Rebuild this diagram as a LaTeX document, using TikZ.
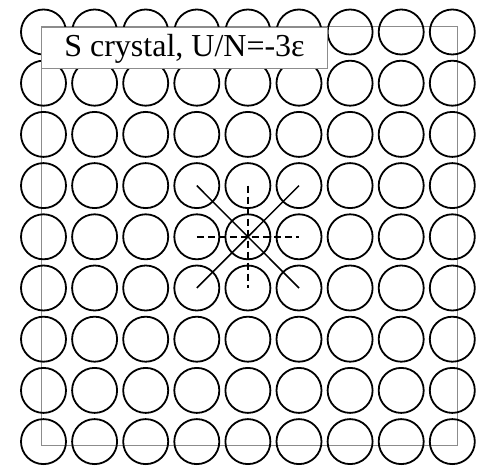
\documentclass[tikz,border=0pt]{standalone}
\usepackage{fontspec}
\setmainfont{Liberation Serif}
\begin{document}
\begin{tikzpicture}[x=1pt,y=-1pt,
  atom/.style={circle, draw=black, line width=1.8pt, minimum size=45pt, inner sep=0pt},
  frame/.style={draw=black!45, line width=1pt},
  bond/.style={line width=1.5pt},
  axisline/.style={line width=1.5pt, dash pattern=on 7pt off 4pt}]
\useasboundingbox (0,0) rectangle (481,465);
\fill[white] (0,0) rectangle (481,465);
\draw[frame] (41,27) rectangle (457,445);
\foreach \i in {0,...,8} \foreach \j in {0,...,8}
  \node[atom] (c-\i-\j) at ({43.5+51.1*\i},{32+51.2*\j}) {};
\draw[bond] (c-3-3.center) -- (c-5-5.center);
\draw[bond] (c-5-3.center) -- (c-3-5.center);
\draw[axisline] (c-3-4.center) -- (c-5-4.center);
\draw[axisline] (c-4-3.center) -- (c-4-5.center);
\node[frame, fill=white, anchor=north west, minimum width=286pt, minimum height=41pt,
  text height=22pt, text depth=4pt, inner sep=0pt,
  font=\fontsize{32}{36}\selectfont] (label) at (41,27) {S crystal, U/N=-3ε};
\end{tikzpicture}
\end{document}
